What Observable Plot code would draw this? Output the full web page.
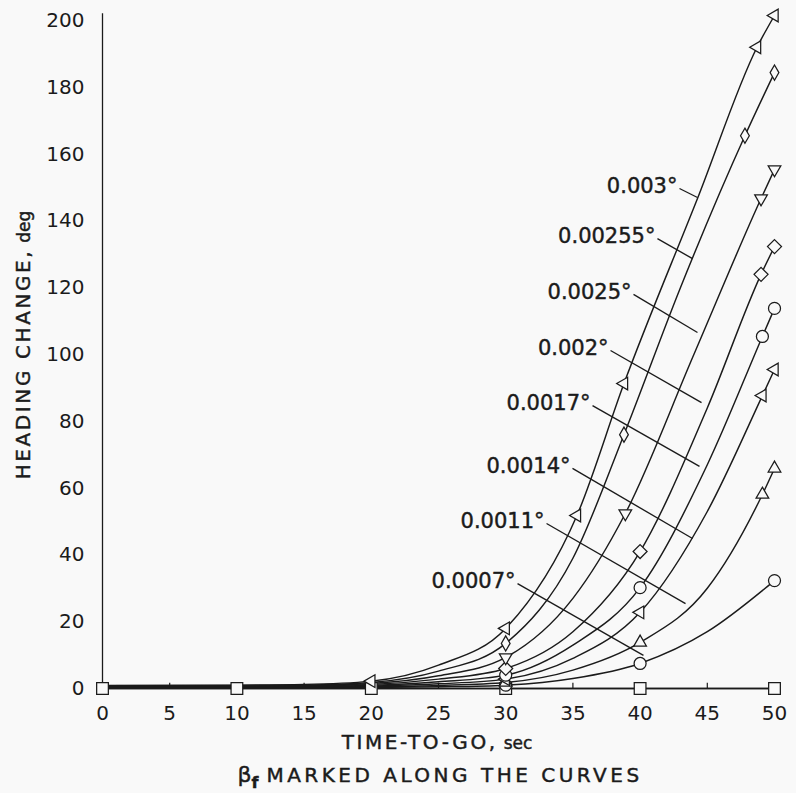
<!DOCTYPE html>
<html>
<head>
<meta charset="utf-8">
<script src="https://cdn.jsdelivr.net/npm/d3@7"></script>
<script src="https://cdn.jsdelivr.net/npm/@observablehq/plot@0.6"></script>
<style>
  html, body { margin: 0; padding: 0; background: #f9f9f9; }
  #chart svg { display: block; background: #f9f9f9; }
</style>
</head>
<body>
<div id="chart"></div>
<script>
// ---------- Data ----------
const timeTicks = [0, 5, 10, 15, 20, 25, 30, 35, 40, 45, 50];
const headingTicks = [0, 20, 40, 60, 80, 100, 120, 140, 160, 180, 200];

// Curve 1 (left triangles)
const curve1Time    = [0, 10, 15, 20, 25, 30, 35.3, 38.8, 44.3, 48.7, 50];
const curve1Heading = [0.9, 1.0, 1.2, 2.2, 7, 18, 51.8, 91.3, 147, 192, 201.5];
const curve1Marked  = [20, 30, 35.3, 38.8, 48.7, 50];
// Curve 2 (narrow diamonds)
const curve2Time    = [0, 10, 15, 20, 25, 30, 35, 38.8, 43, 47.8, 50];
const curve2Heading = [0.8, 0.9, 1.0, 1.8, 5.2, 13.5, 39, 76, 120, 165.5, 184.4];
const curve2Marked  = [30, 38.8, 47.8, 50];
// Curve 3 (down triangles)
const curve3Time    = [0, 10, 15, 20, 25, 30, 35, 38.9, 44, 49, 50];
const curve3Heading = [0.7, 0.8, 0.9, 1.5, 3.8, 9.3, 27, 52.4, 100, 146.7, 155.4];
const curve3Marked  = [30, 38.9, 49, 50];
// Curve 4 (wide diamonds)
const curve4Time    = [0, 10, 15, 20, 25, 30, 35, 40, 45, 49, 50];
const curve4Heading = [0.6, 0.7, 0.8, 1.2, 2.8, 6, 17, 41, 84, 124, 132.3];
const curve4Marked  = [30, 40, 49, 50];
// Curve 5 (circles)
const curve5Time    = [0, 10, 15, 20, 25, 30, 35, 40, 45, 49.1, 50];
const curve5Heading = [0.5, 0.55, 0.6, 0.9, 2, 4, 13, 30.2, 67, 105.4, 113.8];
const curve5Marked  = [30, 40, 49.1, 50];
// Curve 6 (left triangles)
const curve6Time    = [0, 10, 15, 20, 25, 30, 35, 40, 45, 49.1, 50];
const curve6Heading = [0.4, 0.4, 0.45, 0.7, 1.4, 2.8, 9, 22.8, 53, 87.7, 95.5];
const curve6Marked  = [30, 40, 49.1, 50];
// Curve 7 (up triangles)
const curve7Time    = [0, 10, 15, 20, 25, 30, 35, 40, 45, 49.1, 50];
const curve7Heading = [0.3, 0.3, 0.3, 0.5, 0.9, 1.8, 5.5, 13.8, 30, 58.1, 65.9];
const curve7Marked  = [30, 40, 49.1, 50];
// Curve 8 (circles)
const curve8Time    = [0, 10, 15, 20, 25, 30, 35, 40, 45, 50];
const curve8Heading = [0.15, 0.15, 0.15, 0.3, 0.5, 1, 3, 7.5, 17, 32.3];
const curve8Marked  = [30, 40, 50];
// Curve 9 (squares, zero)
const curve9Time    = [0, 10, 20, 30, 40, 50];
const curve9Heading = [0, 0, 0, 0, 0, 0];
const curve9Marked  = [0, 10, 20, 30, 40, 50];

// beta_f contour labels and their leader lines (data units)
const betaLabels         = ["0.003°", "0.00255°", "0.0025°", "0.002°", "0.0017°", "0.0014°", "0.0011°", "0.0007°"];
const leaderStartTime    = [42.93, 41.29, 39.51, 37.80, 36.46, 34.97, 33.04, 30.88];
const leaderStartHeading = [149.7, 134.7, 118.0, 101.2, 84.7, 65.9, 49.4, 31.4];
const leaderEndTime      = [44.27, 43.90, 44.27, 44.57, 44.42, 43.90, 43.38, 40.25];
const leaderEndHeading   = [147.0, 128.7, 106.6, 85.6, 66.5, 44.9, 25.4, 9.9];

// ---------- Styles ----------
const ink = "#1b1b1b";
const bg = "#f9f9f9";
const font = "'DejaVu Sans', Verdana, sans-serif";
const curveSymbol = ["triangle", "diamond", "triangle", "diamond2", "circle", "triangle", "triangle", "circle", "square"];
const curveRotate = [-90, 0, 180, 0, 0, -90, 0, 0, 0];
const curveRadius = [4.7, 4.6, 4.7, 6.3, 6, 4.7, 4.7, 6, 6.6];

// ---------- Build tables ----------
const curveTimes = [curve1Time, curve2Time, curve3Time, curve4Time, curve5Time, curve6Time, curve7Time, curve8Time, curve9Time];
const curveHeadings = [curve1Heading, curve2Heading, curve3Heading, curve4Heading, curve5Heading, curve6Heading, curve7Heading, curve8Heading, curve9Heading];
const curveMarked = [curve1Marked, curve2Marked, curve3Marked, curve4Marked, curve5Marked, curve6Marked, curve7Marked, curve8Marked, curve9Marked];

const lineRows = curveTimes.flatMap((ts, i) => ts.map((t, j) => ({curve: i, t, v: curveHeadings[i][j]})));
const markerRows = curveMarked.map((ms, i) => ms.map(t => {
  const j = curveTimes[i].indexOf(t);
  return {curve: i, t, v: curveHeadings[i][j]};
}));
const leaders = betaLabels.map((label, i) => ({
  label,
  x1: leaderStartTime[i], y1: leaderStartHeading[i],
  x2: leaderEndTime[i], y2: leaderEndHeading[i]
}));

const dotMarks = [];
for (let i = curveSymbol.length - 1; i >= 0; i--) {
  dotMarks.push(Plot.dot(markerRows[i], {
    x: "t", y: "v",
    symbol: curveSymbol[i], r: curveRadius[i], rotate: curveRotate[i],
    fill: bg, stroke: ink, strokeWidth: 1.25
  }));
}

const chart = Plot.plot({
  width: 796,
  height: 793,
  marginLeft: 102,
  marginRight: 22,
  marginTop: 20,
  marginBottom: 105,
  style: {fontFamily: font, fontSize: "20px", color: ink, background: bg},
  x: {domain: [0, 50], label: null},
  y: {domain: [0, 200], label: null},
  marks: [
    Plot.ruleX([0], {y1: 0, y2: 202, stroke: ink, strokeWidth: 1.3}),
    Plot.ruleY([0], {x1: 0, x2: 50, stroke: ink, strokeWidth: 1.4}),
    Plot.ruleX(timeTicks.slice(1), {x: d => d, y1: 0, y2: 1.6, stroke: ink, strokeWidth: 1.2}),
    Plot.axisX(timeTicks, {tickSize: 0, tickPadding: 17, fontSize: 20, fill: ink, stroke: ink, strokeWidth: 0.55, label: null}),
    Plot.axisY(headingTicks, {tickSize: 0, tickPadding: 18, fontSize: 20, fill: ink, stroke: ink, strokeWidth: 0.55, label: null}),
    Plot.line(lineRows, {x: "t", y: "v", z: "curve", curve: "monotone-x", stroke: ink, strokeWidth: 1.45}),
    Plot.link(leaders, {x1: "x1", y1: "y1", x2: "x2", y2: "y2", stroke: ink, strokeWidth: 1.35}),
    ...dotMarks,
    Plot.text(leaders, {x: "x1", y: "y1", text: "label", textAnchor: "end", dx: -2, dy: -2,
      fontSize: 21, fill: ink, stroke: ink, strokeWidth: 0.45, fontFamily: font})
  ]
});

document.getElementById("chart").appendChild(chart);

// Axis titles (text)
const svg = d3.select(chart);
const xTitle = svg.append("text")
  .attr("x", 437).attr("y", 749)
  .attr("text-anchor", "middle")
  .attr("fill", ink).attr("stroke", ink).attr("stroke-width", 0.45)
  .style("font-family", font);
xTitle.append("tspan").attr("font-size", 20).attr("letter-spacing", "2.6px").text("TIME-TO-GO,");
xTitle.append("tspan").attr("font-size", 17).attr("dx", 6).text("sec");

const subTitle = svg.append("text")
  .attr("x", 440).attr("y", 782)
  .attr("text-anchor", "middle")
  .attr("fill", ink).attr("stroke", ink).attr("stroke-width", 0.45)
  .style("font-family", font);
subTitle.append("tspan").attr("font-size", 22).text("β");
subTitle.append("tspan").attr("font-size", 16).attr("font-weight", "bold").attr("dy", 6).text("f");
subTitle.append("tspan").attr("font-size", 20).attr("dy", -6).attr("dx", 8).attr("letter-spacing", "3.5px").text("MARKED ALONG THE CURVES");

const yTitle = svg.append("text")
  .attr("transform", "translate(30,345) rotate(-90)")
  .attr("text-anchor", "middle")
  .attr("fill", ink).attr("stroke", ink).attr("stroke-width", 0.45)
  .style("font-family", font);
yTitle.append("tspan").attr("font-size", 20).attr("letter-spacing", "2.6px").text("HEADING CHANGE,");
yTitle.append("tspan").attr("font-size", 17).attr("dx", 6).text("deg");
</script>
</body>
</html>
